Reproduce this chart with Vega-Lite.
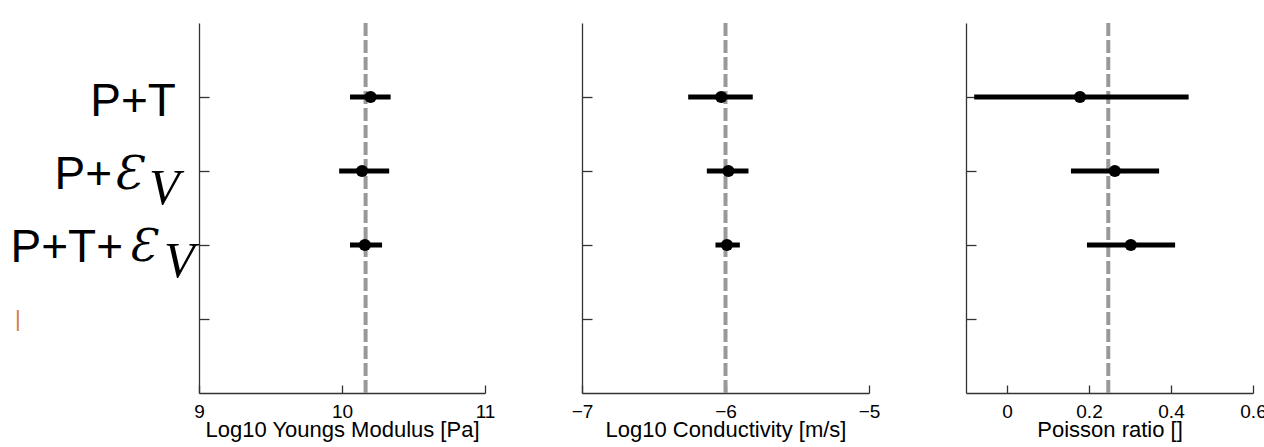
{
  "$schema": "https://vega.github.io/schema/vega-lite/v6.json",
  "autosize": "none",
  "padding": {"left": 199, "top": 23, "right": 1065, "bottom": 424},
  "background": "white",
  "bounds": "flush",
  "spacing": 97,
  "datasets": {
    "fits": [
      {"model": "P+T", "E": 10.2, "E_lo": 10.056, "E_hi": 10.34, "K": -6.03, "K_lo": -6.26, "K_hi": -5.81, "nu": 0.178, "nu_lo": -0.08, "nu_hi": 0.443},
      {"model": "P+εV", "E": 10.14, "E_lo": 9.98, "E_hi": 10.33, "K": -5.98, "K_lo": -6.13, "K_hi": -5.84, "nu": 0.263, "nu_lo": 0.156, "nu_hi": 0.371},
      {"model": "P+T+εV", "E": 10.16, "E_lo": 10.056, "E_hi": 10.28, "K": -5.99, "K_lo": -6.07, "K_hi": -5.9, "nu": 0.302, "nu_lo": 0.195, "nu_hi": 0.41}
    ],
    "truth": [{"E": 10.165, "K": -6.0, "nu": 0.247}],
    "labels": [
      {"model": "P+T", "prefix": "P+T", "sym": "", "sub": ""},
      {"model": "P+εV", "prefix": "P+", "sym": "Ɛ", "sub": "V"},
      {"model": "P+T+εV", "prefix": "P+T+", "sym": "Ɛ", "sub": "V"},
      {"model": "blank", "prefix": "|", "sym": "", "sub": ""}
    ]
  },
  "hconcat": [
    {
      "width": 286,
      "height": 370,
      "layer": [
        {
          "data": {"name": "truth"},
          "mark": {"type": "rule", "color": "#999999", "strokeWidth": 4, "strokeDash": [13, 4]},
          "encoding": {
            "x": {"field": "E", "type": "quantitative", "scale": {"domain": [9, 11], "nice": false, "zero": false}, "axis": {"values": [9, 10, 11], "title": "Log10 Youngs Modulus [Pa]", "format": "~g"}}
          }
        },
        {
          "data": {"name": "fits"},
          "mark": {"type": "rule", "color": "black", "strokeWidth": 5},
          "encoding": {
            "x": {"field": "E_lo", "type": "quantitative"},
            "x2": {"field": "E_hi"},
            "y": {"field": "model", "type": "nominal", "scale": {"type": "point", "domain": ["top", "P+T", "P+εV", "P+T+εV", "blank", "bottom"], "padding": 0}, "axis": {"values": ["P+T", "P+εV", "P+T+εV", "blank"], "labels": false, "title": null}}
          }
        },
        {
          "data": {"name": "fits"},
          "mark": {"type": "circle", "color": "black", "opacity": 1, "size": 150},
          "encoding": {
            "x": {"field": "E", "type": "quantitative"},
            "y": {"field": "model", "type": "nominal"}
          }
        },
        {
          "data": {"name": "labels"},
          "transform": [{"filter": "datum.model === 'P+T'"}],
          "mark": {"type": "text", "align": "right", "baseline": "alphabetic", "dy": 19, "font": "Liberation Sans", "fontSize": 46, "color": "black"},
          "encoding": {"x": {"datum": 8.839, "type": "quantitative"}, "y": {"field": "model", "type": "nominal"}, "text": {"field": "prefix"}}
        },
        {
          "data": {"name": "labels"},
          "transform": [{"filter": "datum.model === 'P+εV'"}],
          "mark": {"type": "text", "align": "right", "baseline": "alphabetic", "dy": 18, "font": "Liberation Sans", "fontSize": 46, "color": "black"},
          "encoding": {"x": {"datum": 8.392, "type": "quantitative"}, "y": {"field": "model", "type": "nominal"}, "text": {"field": "prefix"}}
        },
        {
          "data": {"name": "labels"},
          "transform": [{"filter": "datum.model === 'P+εV'"}],
          "mark": {"type": "text", "align": "left", "baseline": "alphabetic", "dy": 18, "font": "DejaVu Serif", "fontStyle": "italic", "fontSize": 46, "color": "black"},
          "encoding": {"x": {"datum": 8.399, "type": "quantitative"}, "y": {"field": "model", "type": "nominal"}, "text": {"field": "sym"}}
        },
        {
          "data": {"name": "labels"},
          "transform": [{"filter": "datum.model === 'P+εV'"}],
          "mark": {"type": "text", "align": "left", "baseline": "alphabetic", "dy": 33, "font": "Liberation Serif", "fontStyle": "italic", "fontSize": 50, "color": "black"},
          "encoding": {"x": {"datum": 8.65, "type": "quantitative"}, "y": {"field": "model", "type": "nominal"}, "text": {"field": "sub"}}
        },
        {
          "data": {"name": "labels"},
          "transform": [{"filter": "datum.model === 'P+T+εV'"}],
          "mark": {"type": "text", "align": "right", "baseline": "alphabetic", "dy": 17, "font": "Liberation Sans", "fontSize": 46, "color": "black"},
          "encoding": {"x": {"datum": 8.469, "type": "quantitative"}, "y": {"field": "model", "type": "nominal"}, "text": {"field": "prefix"}}
        },
        {
          "data": {"name": "labels"},
          "transform": [{"filter": "datum.model === 'P+T+εV'"}],
          "mark": {"type": "text", "align": "left", "baseline": "alphabetic", "dy": 16, "font": "DejaVu Serif", "fontStyle": "italic", "fontSize": 44, "color": "black"},
          "encoding": {"x": {"datum": 8.503, "type": "quantitative"}, "y": {"field": "model", "type": "nominal"}, "text": {"field": "sym"}}
        },
        {
          "data": {"name": "labels"},
          "transform": [{"filter": "datum.model === 'P+T+εV'"}],
          "mark": {"type": "text", "align": "left", "baseline": "alphabetic", "dy": 32, "font": "Liberation Serif", "fontStyle": "italic", "fontSize": 50, "color": "black"},
          "encoding": {"x": {"datum": 8.755, "type": "quantitative"}, "y": {"field": "model", "type": "nominal"}, "text": {"field": "sub"}}
        },
        {
          "data": {"name": "labels"},
          "transform": [{"filter": "datum.model === 'blank'"}],
          "mark": {"type": "text", "align": "center", "baseline": "middle", "dy": 0, "font": "Liberation Sans", "fontSize": 22, "color": "#d3802f"},
          "encoding": {"x": {"datum": 7.734, "type": "quantitative"}, "y": {"field": "model", "type": "nominal"}, "text": {"field": "prefix"}}
        }
      ]
    },
    {
      "width": 287,
      "height": 370,
      "layer": [
        {
          "data": {"name": "truth"},
          "mark": {"type": "rule", "color": "#999999", "strokeWidth": 4, "strokeDash": [13, 4]},
          "encoding": {
            "x": {"field": "K", "type": "quantitative", "scale": {"domain": [-7, -5], "nice": false, "zero": false}, "axis": {"values": [-7, -6, -5], "title": "Log10 Conductivity [m/s]", "format": "~g"}}
          }
        },
        {
          "data": {"name": "fits"},
          "mark": {"type": "rule", "color": "black", "strokeWidth": 5},
          "encoding": {
            "x": {"field": "K_lo", "type": "quantitative"},
            "x2": {"field": "K_hi"},
            "y": {"field": "model", "type": "nominal", "scale": {"type": "point", "domain": ["top", "P+T", "P+εV", "P+T+εV", "blank", "bottom"], "padding": 0}, "axis": {"values": ["P+T", "P+εV", "P+T+εV", "blank"], "labels": false, "title": null}}
          }
        },
        {
          "data": {"name": "fits"},
          "mark": {"type": "circle", "color": "black", "opacity": 1, "size": 150},
          "encoding": {
            "x": {"field": "K", "type": "quantitative"},
            "y": {"field": "model", "type": "nominal"}
          }
        }
      ]
    },
    {
      "width": 287,
      "height": 370,
      "layer": [
        {
          "data": {"name": "truth"},
          "mark": {"type": "rule", "color": "#999999", "strokeWidth": 4, "strokeDash": [13, 4]},
          "encoding": {
            "x": {"field": "nu", "type": "quantitative", "scale": {"domain": [-0.1, 0.6], "nice": false, "zero": false}, "axis": {"values": [0, 0.2, 0.4, 0.6], "title": "Poisson ratio []", "format": "~g"}}
          }
        },
        {
          "data": {"name": "fits"},
          "mark": {"type": "rule", "color": "black", "strokeWidth": 5},
          "encoding": {
            "x": {"field": "nu_lo", "type": "quantitative"},
            "x2": {"field": "nu_hi"},
            "y": {"field": "model", "type": "nominal", "scale": {"type": "point", "domain": ["top", "P+T", "P+εV", "P+T+εV", "blank", "bottom"], "padding": 0}, "axis": {"values": ["P+T", "P+εV", "P+T+εV", "blank"], "labels": false, "title": null}}
          }
        },
        {
          "data": {"name": "fits"},
          "mark": {"type": "circle", "color": "black", "opacity": 1, "size": 150},
          "encoding": {
            "x": {"field": "nu", "type": "quantitative"},
            "y": {"field": "model", "type": "nominal"}
          }
        }
      ]
    }
  ],
  "config": {
    "view": {"stroke": null},
    "axis": {
      "grid": false,
      "domainColor": "#333333",
      "domainWidth": 1.3,
      "tickColor": "#333333",
      "tickWidth": 1.3,
      "labelColor": "#000000",
      "titleColor": "#000000",
      "labelFont": "Liberation Sans",
      "titleFont": "Liberation Sans",
      "titleFontWeight": "normal"
    },
    "axisX": {
      "tickSize": -8,
      "labelFontSize": 19,
      "titleFontSize": 22,
      "labelPadding": 17,
      "titlePadding": -2,
      "labelFlush": false,
      "labelOverlap": false,
      "labelBound": false
    },
    "axisY": {
      "tickSize": -10
    }
  }
}
